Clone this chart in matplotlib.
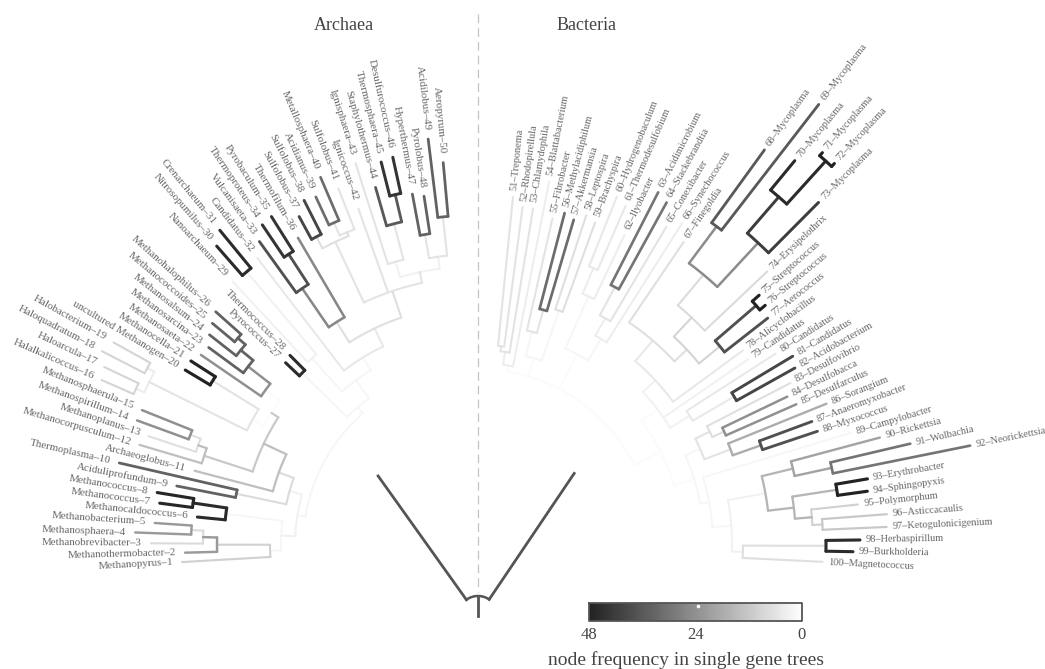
import numpy as np
import matplotlib
matplotlib.use("Agg")
import matplotlib.pyplot as plt
from matplotlib.colors import LinearSegmentedColormap

plt.rcParams['font.family'] = ['Liberation Serif', 'DejaVu Serif']

# Tips 1-50 are Archaea, 51-100 Bacteria
tip_names = [
    "Methanopyrus", "Methanothermobacter", "Methanobrevibacter", "Methanosphaera", "Methanobacterium",
    "Methanocaldococcus", "Methanococcus", "Methanococcus", "Aciduliprofundum", "Thermoplasma",
    "Archaeoglobus", "Methanocorpusculum", "Methanoplanus", "Methanospirillum", "Methanosphaerula",
    "Halalkalicoccus", "Haloarcula", "Haloquadratum", "Halobacterium", "uncultured Methanogen",
    "Methanocella", "Methanosaeta", "Methanosarcina", "Methanosalsum", "Methanococcoides",
    "Methanohalophilus", "Pyrococcus", "Thermococcus", "Nanoarchaeum", "Nitrosopumilus",
    "Crenarchaeum", "Candidatus", "Vulcanisaeta", "Thermoproteus", "Pyrobaculum",
    "Thermofilum", "Sulfolobus", "Sulfolobus", "Acidianus", "Metallosphaera",
    "Sulfolobus", "Ignicoccus", "Ignisphaera", "Staphylothermus", "Thermosphaera",
    "Desulfurococcus", "Hyperthermus", "Pyrolobus", "Acidilobus", "Aeropyrum",
    "Treponema", "Rhodopirellula", "Chlamydophila", "Blattabacterium", "Fibrobacter",
    "Methylacidiphilum", "Akkermansia", "Leptospira", "Brachyspira", "Hydrogenobaculum",
    "Thermodesulfobium", "Ilyobacter", "Acidimicrobium", "Stackebrandtia", "Conexibacter",
    "Synechococcus", "Finegoldia", "Mycoplasma", "Mycoplasma", "Mycoplasma",
    "Mycoplasma", "Mycoplasma", "Mycoplasma", "Erysipelothrix", "Streptococcus",
    "Streptococcus", "Aerococcus", "Alicyclobacillus", "Candidatus", "Candidatus",
    "Candidatus", "Acidobacterium", "Desulfovibrio", "Desulfobacca", "Desulfarculus",
    "Sorangium", "Anaeromyxobacter", "Myxococcus", "Campylobacter", "Rickettsia",
    "Wolbachia", "Neorickettsia", "Erythrobacter", "Sphingopyxis", "Polymorphum",
    "Asticcacaulis", "Ketogulonicigenium", "Herbaspirillum", "Burkholderia", "Magnetococcus",
]
tip_radius = [
    296.5, 293, 327, 343, 324, 282, 321, 325, 307, 368,
    293, 353, 347, 363, 362, 411, 414, 423, 417, 341,
    341, 336, 334, 341, 346, 351, 265, 267, 360, 397,
    407, 362, 374, 386, 388, 356, 374, 386, 384, 400,
    383, 357, 401, 372, 395, 397, 357, 353, 409, 384,
    350, 341, 341, 370, 335, 343, 339, 347, 343, 375,
    370, 343, 396, 391, 370, 381, 366, 488, 557, 498,
    522, 522, 483, 398, 376, 374, 368, 329, 328, 354,
    367, 363, 352, 343, 348, 376, 356, 358, 389, 416,
    444, 502, 395, 393, 382, 410, 409, 382, 375, 345,
]

# Inner nodes, children before parents
node_ids = [
    "a1", "a2", "a3", "a4", "a5", "a6", "a7", "a8", "a9", "a10", "a11", "a12",
    "a13", "a14", "a15", "a16", "a17", "a18", "a19", "a20", "a21", "a22", "a23", "a24",
    "a25", "a26", "a27", "a28", "a29", "a30", "a31", "a32", "a33", "a34", "a35", "a36",
    "a37", "a38", "a39", "a40", "a41", "a42", "a43", "a44", "a45", "a46", "a47", "a48",
    "b1", "b2", "b3", "b4", "b5", "b6", "b7", "b8", "b9", "b10", "b11", "b12",
    "b13", "b14", "b15", "b16", "b17", "b18", "b19", "b20", "b21", "b22", "b23", "b24",
    "b25", "b26", "b27", "b28", "b29", "b30", "b31", "b32", "b33", "b34", "b35", "b36",
    "b37", "b38", "b39", "b40", "b41", "b42", "b43", "b44", "b45", "b46",
]
node_kids = [
    (4, 5), (3, "a1"), (2, "a2"), (1, "a3"), (7, 8), (6, "a5"), ("a4", "a6"), (9, 10),
    (14, 15), (13, "a9"), (12, "a10"), (16, 17), (18, 19), ("a12", "a13"), (20, 21), ("a14", "a15"),
    (25, 26), (24, "a17"), (23, "a18"), (22, "a19"), ("a16", "a20"), ("a11", "a21"), (11, "a22"), ("a8", "a23"),
    ("a7", "a24"), (27, 28), (30, 31), (29, "a27"), (34, 35), (33, "a29"), (36, "a30"), (37, 38),
    (39, 40), (41, "a33"), ("a32", "a34"), (45, 46), (44, "a36"), (43, "a37"), (47, 48), (49, 50),
    ("a39", "a40"), ("a38", "a41"), (42, "a35", "a42"), ("a31", "a43"), (32, "a44"), ("a28", "a45"), ("a26", "a46"), ("a25", "a47"),
    (51, 52), (53, "b1"), (54, "b2"), (56, 57), (55, "b4"), (58, 59), ("b5", "b6"), (60, 61),
    (62, "b8"), (63, 64), (65, "b10"), (66, "b11"), ("b9", "b12"), (68, 69), (71, 72), (70, "b15"),
    (73, "b16"), ("b14", "b17"), (74, "b18"), (75, 76), (77, "b20"), ("b19", "b21"), (67, "b22"), (78, "b23"),
    (81, 82), (80, "b25"), (79, "b24", "b26"), (84, 85), (83, "b28"), (87, 88), (86, "b30"), ("b29", "b31"),
    (91, 92), (90, "b33"), (93, 94), (96, 97), (95, "b36"), ("b35", "b37"), ("b34", "b38"), (98, 99),
    (100, "b40"), ("b39", "b41"), (89, "b42"), ("b32", "b43"), ("b27", "b44"), ("b3", "b7", "b13", "b45"),
]
node_radius = [
    287, 275, 261, 208, 288, 254, 197, 247, 308, 297, 288, 376,
    375, 367, 312, 258, 317, 307, 291, 263, 245, 237, 212, 196,
    183, 246, 358, 250, 347, 311, 264, 348, 353, 339, 335, 360,
    332, 295, 315, 330, 291, 279, 268, 240, 220, 205, 183, 175,
    200, 195, 182, 244, 220, 248, 195, 300, 272, 292, 260, 240,
    215, 398, 518, 460, 412, 352, 312, 367, 313, 286, 269, 242,
    296, 248, 225, 271, 258, 300, 270, 242, 362, 324, 363, 345,
    335, 318, 292, 348, 265, 254, 235, 226, 205, 176,
]
node_freq = [
    22, 8, 22, 10, 47, 46, 2, 34, 24, 7, 14, 9,
    9, 4, 48, 6, 34, 34, 34, 24, 1, 12, 14, 8,
    3, 46, 46, 3, 44, 38, 26, 40, 32, 6, 7, 44,
    36, 6, 34, 34, 6, 3, 6, 7, 5, 2, 2, 2,
    6, 6, 4, 32, 6, 7, 2, 5, 4, 30, 6, 4,
    2, 36, 48, 46, 42, 25, 8, 48, 38, 9, 7, 5,
    40, 5, 3, 24, 7, 38, 18, 6, 30, 20, 48, 12,
    10, 16, 16, 46, 7, 3, 2, 2, 1, 1,
]

panel_titles = ["Archaea", "Bacteria"]
bar_ticks = [48, 24, 0]
bar_title = "node frequency in single gene trees"

gray_map = LinearSegmentedColormap.from_list("freq", ["#ffffff", "#222222"])
CX, CY = 478, 545
ROOT_X, ROOT_Y = 478, 616


def tip_angle(tip):
    # bearing from straight up, tips are evenly spread by number
    if tip <= 50:
        return -93.3 + (tip - 1) * 88.1 / 49
    return 5.74 + (tip - 51) * 87.06 / 49


def to_xy(r, bearing, cx=CX, cy=CY):
    b = np.radians(bearing)
    return cx + r * np.sin(b), cy - r * np.cos(b)


def line_width(freq):
    return 1.35 + 0.9 * freq / 48


fig = plt.figure(figsize=(10.45, 6.69), dpi=100)
ax = fig.add_axes([0, 0, 1, 1])
ax.set_xlim(0, 1045)
ax.set_ylim(669, 0)
ax.axis("off")

ax.plot([CX, CX], [14, 592], color="#c4c4c4", lw=0.9, dashes=(7, 4), zorder=0)

# place every node: radius from the lists, angle in the middle of its children
place = {i + 1: (tip_radius[i], tip_angle(i + 1)) for i in range(100)}
for nid, kids, r in zip(node_ids, node_kids, node_radius):
    angles = [place[k][1] for k in kids]
    place[nid] = (r, (min(angles) + max(angles)) / 2)

# pale branches first so the dark ones stay on top
for i in np.argsort(node_freq):
    kids = node_kids[i]
    r = node_radius[i]
    color = gray_map(node_freq[i] / 48)
    lw = line_width(node_freq[i])
    angles = [place[k][1] for k in kids]
    arc = np.linspace(min(angles), max(angles), 12)
    xs, ys = to_xy(r, arc)
    ax.plot(xs, ys, color=color, lw=lw, solid_capstyle="round", zorder=2 + node_freq[i] / 48)
    for k in kids:
        kr, ka = place[k]
        xs, ys = to_xy(np.array([r, kr]), np.array([ka, ka]))
        ax.plot(xs, ys, color=color, lw=lw, solid_capstyle="round", zorder=2 + node_freq[i] / 48)

# the two domain roots and the stem
arm_bearing = [-35.5, 34]
arm_length = 172
arm_color = "#555555"
for b in arm_bearing:
    xs, ys = to_xy(np.array([20, arm_length]), np.array([b, b]), ROOT_X, ROOT_Y)
    ax.plot(xs, ys, color=arm_color, lw=2)
arc = np.linspace(arm_bearing[0], arm_bearing[1], 20)
xs, ys = to_xy(20, arc, ROOT_X, ROOT_Y)
ax.plot(xs, ys, color=arm_color, lw=1.8)
ax.plot([ROOT_X, ROOT_X], [ROOT_Y - 20, ROOT_Y], color=arm_color, lw=2)

# tip labels follow the direction of their branch
for i, name in enumerate(tip_names):
    tip = i + 1
    r, a = place[tip]
    if tip <= 50:
        x, y = to_xy(r + 9, a)
        ax.text(x, y, f"{name}\u2013{tip}", rotation=-(90 + a), rotation_mode="anchor",
                ha="right", va="center", fontsize=7.9, color="#666666")
    else:
        x, y = to_xy(r + 6, a)
        ax.text(x, y, f"{tip}\u2013{name}", rotation=90 - a, rotation_mode="anchor",
                ha="left", va="center", fontsize=7.45, color="#666666")

ax.text(344, 25, panel_titles[0], ha="center", va="center", fontsize=13, color="#444444")
ax.text(587, 25, panel_titles[1], ha="center", va="center", fontsize=13, color="#444444")

# colour bar
gradient = np.linspace(1, 0, 256).reshape(1, -1)
ax.imshow(gradient, cmap=gray_map, extent=[589, 802, 621, 603], aspect="auto", zorder=3, vmin=0, vmax=1)
ax.set_xlim(0, 1045)
ax.set_ylim(669, 0)
ax.plot([589, 802, 802, 589, 589], [603, 603, 621, 621, 603], color="#555555", lw=1.3, zorder=4)
ax.plot([698], [606], "o", color="#ffffff", ms=1.6, zorder=5)
for t in bar_ticks:
    ax.text(802 - t / 48 * 213, 635, str(t), ha="center", va="center", fontsize=12, color="#444444")
ax.text(686, 660, bar_title, ha="center", va="center", fontsize=14, color="#444444")

fig.savefig("out.png", dpi=100)
